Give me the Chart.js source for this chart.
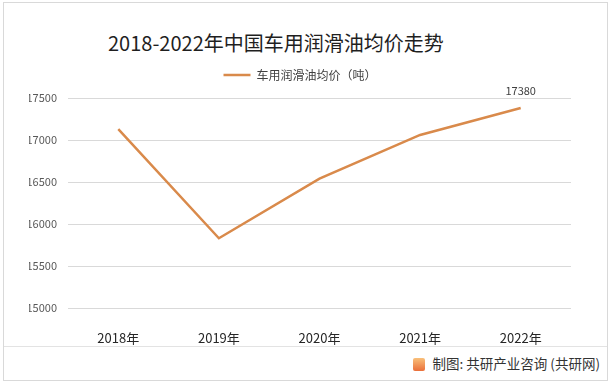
<!DOCTYPE html>
<html>
<head>
<meta charset="utf-8">
<title>2018-2022年中国车用润滑油均价走势</title>
<script src="https://cdn.jsdelivr.net/npm/chart.js@4/dist/chart.umd.min.js"></script>
<style>
  body { margin: 0; background: #fff; }
  #wrap { position: relative; width: 613px; height: 386px; font-family: "Noto Sans CJK SC", "Noto Sans", sans-serif; }
  .frame { position: absolute; left: 3px; top: 2px; width: 603px; height: 377px; border: 1px solid #d9d9d9; }
  .title { position: absolute; left: 108px; top: 30px; font-size: 20px; line-height: 26px; color: #1f1f1f; white-space: nowrap; }
  #chart { position: absolute; left: 0; top: 0; }
  .foot-line { position: absolute; left: 4px; top: 346px; width: 603px; height: 1px; background: #e3e3e3; }
  .source { position: absolute; right: 13px; top: 354px; font-size: 13.5px; line-height: 18px; color: #333; white-space: nowrap; }
  .logo { display: inline-block; width: 12px; height: 13px; margin-right: 8px; vertical-align: -2px; border-radius: 2px; background: linear-gradient(#f9c07a, #ea6f3a); }
</style>
</head>
<body>
<div id="wrap">
  <div class="frame"></div>
  <div class="title">2018-2022年中国车用润滑油均价走势</div>
  <canvas id="chart" width="600" height="346"></canvas>
  <div class="foot-line"></div>
  <div class="source"><span class="logo"></span>制图: 共研产业咨询 (共研网)</div>
</div>
<script>
// chart data
const years = ['2018年', '2019年', '2020年', '2021年', '2022年'];
const avgPrice = [17130, 15830, 16540, 17060, 17380];
const seriesName = '车用润滑油均价（吨）';
const yTicks = [15000, 15500, 16000, 16500, 17000, 17500];

const lineColor = '#d98a4b';
const fontFamily = '"Noto Sans CJK SC", "Noto Sans", sans-serif';

// only the last point carries a value label
const lastLabel = {
  id: 'lastLabel',
  afterDatasetsDraw(chart) {
    const meta = chart.getDatasetMeta(0);
    const i = avgPrice.length - 1;
    const pt = meta.data[i];
    const ctx = chart.ctx;
    ctx.save();
    ctx.font = '11px ' + fontFamily;
    ctx.fillStyle = '#404040';
    ctx.textAlign = 'center';
    ctx.textBaseline = 'middle';
    ctx.fillText(String(avgPrice[i]), pt.x, pt.y - 17);
    ctx.restore();
  }
};

new Chart(document.getElementById('chart'), {
  type: 'line',
  data: {
    labels: years,
    datasets: [{
      label: seriesName,
      data: avgPrice,
      borderColor: lineColor,
      backgroundColor: lineColor,
      borderWidth: 2.5,
      pointRadius: 0,
      tension: 0,
      xAxisID: 'x',
      yAxisID: 'y'
    }]
  },
  options: {
    responsive: false,
    animation: false,
    devicePixelRatio: 1,
    // left padding recentres the legend, y axis width makes up the rest
    layout: { padding: { top: 59, left: 29, right: 29, bottom: 0 } },
    plugins: {
      title: { display: false },
      tooltip: { enabled: false },
      legend: {
        display: true,
        position: 'top',
        labels: {
          usePointStyle: true,
          pointStyle: 'line',
          pointStyleWidth: 27,
          padding: 10,
          color: '#404040',
          font: { size: 12, family: fontFamily }
        }
      }
    },
    scales: {
      x: {
        type: 'category',
        position: 'bottom',
        offset: true,
        grid: { display: false },
        border: { display: false },
        ticks: { color: '#262626', padding: 14, font: { size: 13, family: fontFamily } },
        afterFit(scale) { scale.height = 38; }
      },
      // empty spacer between legend and plot
      xTop: {
        type: 'category',
        position: 'top',
        grid: { display: false },
        border: { display: false },
        ticks: { display: false },
        afterFit(scale) { scale.height = 7; }
      },
      y: {
        min: yTicks[0],
        max: yTicks[yTicks.length - 1],
        afterBuildTicks(scale) { scale.ticks = yTicks.map(v => ({ value: v })); },
        grid: { color: '#d9d9d9', lineWidth: 1, drawTicks: false },
        border: { display: false },
        ticks: {
          color: '#595959',
          padding: 11,
          font: { size: 11, family: fontFamily },
          callback: v => String(v)
        },
        afterFit(scale) { scale.width = 39; }
      }
    }
  },
  plugins: [lastLabel]
});
</script>
</body>
</html>
